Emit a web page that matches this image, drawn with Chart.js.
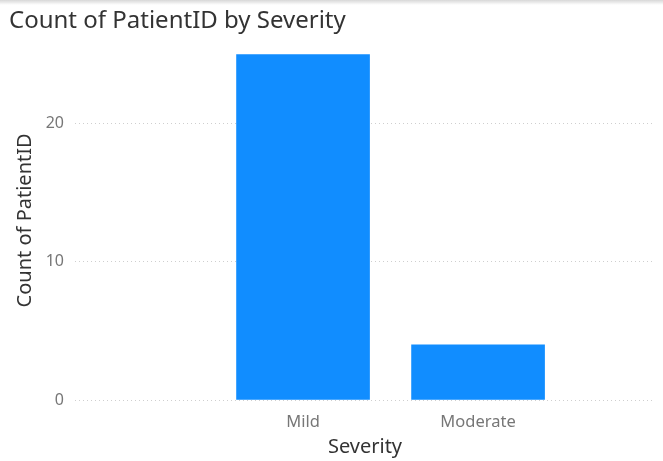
<!DOCTYPE html>
<html>
<head>
<meta charset="utf-8">
<script src="https://cdn.jsdelivr.net/npm/chart.js@4"></script>
<style>
  html, body { margin: 0; padding: 0; background: #fff; }
  .wrap { position: relative; width: 663px; height: 461px; }
  .shade { position: absolute; left: 0; top: 0; width: 663px; height: 5px;
           background: linear-gradient(#d8d8d8, rgba(255,255,255,0)); }
</style>
</head>
<body>
<div class="wrap">
  <canvas id="myChart" width="663" height="461"></canvas>
  <div class="shade"></div>
</div>
<script>
const categories = ['Mild', 'Moderate'];
const counts = [25, 4];
const yTicks = [0, 10, 20];

const font = "'Noto Sans', sans-serif";

const ctx = document.getElementById('myChart').getContext('2d');
const myChart = new Chart(ctx, {
    type: 'bar',
    data: {
        datasets: [{
            label: 'Count of PatientID',
            data: counts.map((v, i) => ({ x: i, y: v })),
            backgroundColor: '#118DFF',
            borderWidth: 0,
            barThickness: 133
        }]
    },
    options: {
        responsive: false,
        animation: false,
        layout: {
            padding: { left: 9, right: 8, top: 0, bottom: 0 }
        },
        scales: {
            x: {
                type: 'linear',
                min: -1.303,
                max: 2.011,
                offset: false,
                grid: { display: false },
                border: { display: false },
                afterBuildTicks: scale => {
                    scale.ticks = categories.map((c, i) => ({ value: i }));
                },
                afterFit: scale => { scale.height = 61; },
                ticks: {
                    callback: value => categories[value],
                    color: '#777',
                    font: { family: font, size: 16.5 },
                    padding: 4,
                    autoSkip: false,
                    maxRotation: 0
                },
                title: {
                    display: true,
                    text: 'Severity',
                    color: '#333',
                    font: { family: font, size: 20 },
                    padding: { top: 2, bottom: 2 }
                }
            },
            y: {
                min: 0,
                max: 26,
                afterBuildTicks: scale => {
                    scale.ticks = yTicks.map(v => ({ value: v }));
                },
                afterFit: scale => { scale.width = 66; },
                grid: {
                    color: '#cfcfcf',
                    drawTicks: false
                },
                border: { display: false, dash: [1, 3] },
                ticks: {
                    color: '#777',
                    font: { family: font, size: 16 },
                    padding: 11
                },
                title: {
                    display: true,
                    text: 'Count of PatientID',
                    color: '#333',
                    font: { family: font, size: 20 },
                    padding: { top: 4, bottom: 0 }
                }
            }
        },
        plugins: {
            legend: { display: false },
            tooltip: { enabled: false },
            title: {
                display: true,
                text: 'Count of PatientID by Severity',
                align: 'start',
                color: '#333',
                font: { family: font, size: 24, weight: 'normal' },
                padding: { top: 7, bottom: 5 }
            }
        }
    }
});
</script>
</body>
</html>
